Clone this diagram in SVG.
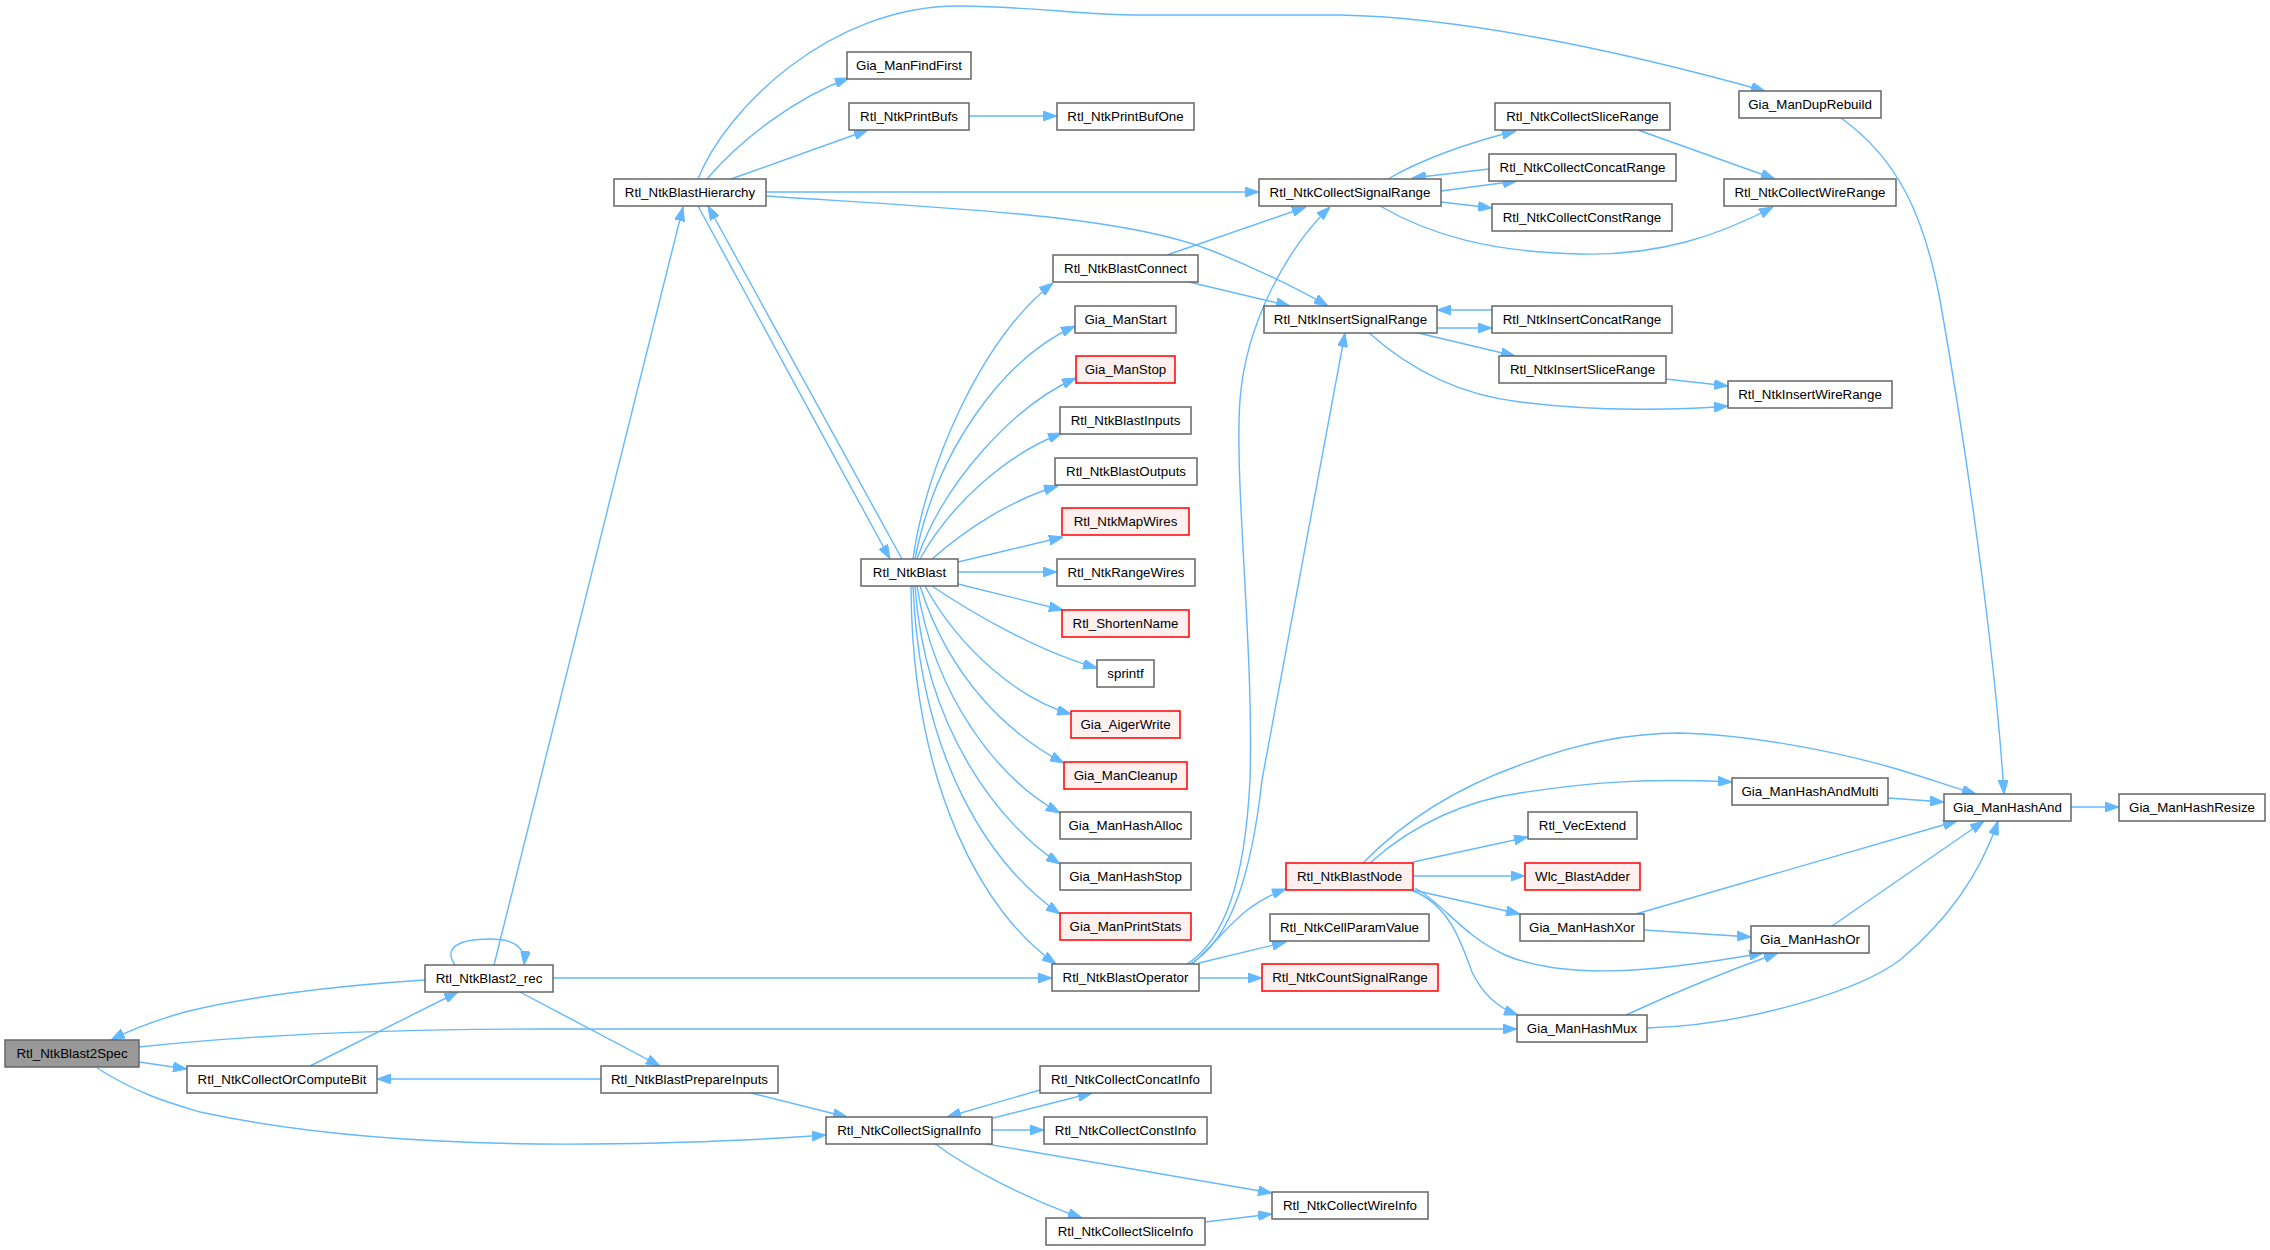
<svg xmlns="http://www.w3.org/2000/svg" width="2270" height="1250" viewBox="0 0 2270 1250">
<style>
.n rect{fill:#ffffff;stroke:#666666;stroke-width:1.5}
.n.r rect{fill:#fff0f0;stroke:#ff0000}
.n.root rect{fill:#999999;stroke:#666666}
.n text{font-family:"Liberation Sans",Arial,sans-serif;font-size:13.33px;fill:#000000;text-anchor:middle}
#edges path{fill:none;stroke:#63b8ff;stroke-width:1.4;marker-end:url(#ah)}
</style>
<defs>
<marker id="ah" markerUnits="userSpaceOnUse" viewBox="0 0 14 10" refX="14" refY="5" markerWidth="14" markerHeight="10" orient="auto">
<path d="M0,0 L14,5 L0,10 z" fill="#63b8ff" stroke="#63b8ff" stroke-width="1"/>
</marker>
</defs>
<rect x="0" y="0" width="2270" height="1250" fill="#ffffff"/>
<g id="edges">
<path d="M139,1062 L187,1069"/>
<path d="M139,1047 C260,1034 400,1029 540,1029 L1517,1029"/>
<path d="M97,1068 C140,1095 170,1103 200,1112 C320,1138 460,1145 590,1144 C690,1143 760,1140 826,1135"/>
<path d="M425,980 C330,986 240,998 185,1012 C150,1022 130,1030 111,1040"/>
<path d="M310,1066 L458,992"/>
<path d="M455,965 C443,948 458,939 490,939 C515,939 526,948 524,965"/>
<path d="M494,965 L683,207"/>
<path d="M553,978 L1052,978"/>
<path d="M518,991 L660,1066"/>
<path d="M601,1079 L377,1079"/>
<path d="M751,1093 L847,1117"/>
<path d="M698,179 C725,110 830,5 960,6 C1040,7 1080,15 1140,15 L1340,15 C1450,17 1600,45 1765,91"/>
<path d="M707,179 C740,140 795,98 849,78"/>
<path d="M731,179 L868,130"/>
<path d="M766,192 L1259,192"/>
<path d="M766,196 C950,208 1120,215 1210,250 C1260,270 1300,290 1328,306"/>
<path d="M698,206 L890,559"/>
<path d="M902,559 L708,206"/>
<path d="M913,559 C925,470 980,340 1053,283"/>
<path d="M915,559 C935,455 1000,360 1075,326"/>
<path d="M917,559 C945,480 1015,405 1076,378"/>
<path d="M920,559 C950,505 1005,455 1062,433"/>
<path d="M932,559 C965,530 1010,500 1058,486"/>
<path d="M958,562 L1063,537"/>
<path d="M958,572 L1057,572"/>
<path d="M958,584 L1063,610"/>
<path d="M932,586 C975,615 1040,652 1097,668"/>
<path d="M925,586 C960,650 1020,700 1071,714"/>
<path d="M920,586 C950,680 1010,735 1064,763"/>
<path d="M917,586 C935,700 1000,780 1060,813"/>
<path d="M915,586 C925,730 1000,825 1060,864"/>
<path d="M913,586 C920,760 990,865 1060,914"/>
<path d="M911,586 C912,790 985,915 1056,964"/>
<path d="M1167,255 L1306,207"/>
<path d="M1189,282 L1290,306"/>
<path d="M1388,179 C1420,160 1470,142 1516,131"/>
<path d="M1489,169 L1412,178"/>
<path d="M1441,191 L1517,181"/>
<path d="M1441,202 L1492,208"/>
<path d="M1380,206 C1430,235 1490,252 1580,254 C1660,256 1720,235 1773,207"/>
<path d="M1638,130 L1775,179"/>
<path d="M1841,118 C1900,160 1925,220 1940,300 C1965,440 1995,650 2004,794"/>
<path d="M1492,310 L1437,310"/>
<path d="M1437,328 L1492,328"/>
<path d="M1414,332 L1515,356"/>
<path d="M1368,332 C1410,370 1460,395 1520,402 C1600,412 1680,410 1728,406"/>
<path d="M1666,379 L1728,386"/>
<path d="M969,116 L1057,116"/>
<path d="M1187,964 C1225,940 1245,880 1250,780 C1254,650 1234,480 1240,400 C1246,320 1290,245 1330,207"/>
<path d="M1190,964 C1232,940 1252,870 1262,780 L1345,333"/>
<path d="M1192,964 C1225,935 1240,905 1286,889"/>
<path d="M1199,963 L1286,942"/>
<path d="M1199,978 L1262,978"/>
<path d="M1363,863 C1400,825 1450,790 1520,765 C1580,742 1630,733 1680,733 C1760,735 1850,755 1900,770 C1930,779 1955,788 1976,794"/>
<path d="M1370,863 C1415,822 1470,800 1520,793 C1590,782 1650,778 1732,782"/>
<path d="M1413,862 L1528,837"/>
<path d="M1413,876 L1525,876"/>
<path d="M1413,890 L1520,914"/>
<path d="M1415,888 C1445,905 1462,935 1505,955 C1560,978 1640,975 1763,953"/>
<path d="M1413,891 C1450,905 1462,945 1472,972 C1483,995 1498,1008 1518,1015"/>
<path d="M1888,798 L1944,802"/>
<path d="M1636,914 L1957,821"/>
<path d="M1644,930 L1751,937"/>
<path d="M1832,926 L1984,821"/>
<path d="M1626,1015 C1680,990 1730,970 1778,953"/>
<path d="M1647,1028 C1750,1025 1860,990 1900,960 C1960,910 1985,860 1998,821"/>
<path d="M2071,807 L2119,807"/>
<path d="M1040,1090 L947,1117"/>
<path d="M993,1118 L1092,1093"/>
<path d="M992,1130 L1044,1130"/>
<path d="M981,1143 L1272,1193"/>
<path d="M934,1143 C970,1170 1030,1200 1082,1218"/>
<path d="M1205,1222 L1272,1214"/>
</g>
<g id="node-Rtl_NtkBlast2Spec" class="n root"><rect x="5" y="1040" width="134" height="27"/><text x="72" y="1058">Rtl_NtkBlast2Spec</text></g>
<g id="node-Rtl_NtkCollectOrComputeBit" class="n"><rect x="187" y="1066" width="190" height="27"/><text x="282" y="1084">Rtl_NtkCollectOrComputeBit</text></g>
<g id="node-Rtl_NtkBlast2_rec" class="n"><rect x="425" y="965" width="128" height="27"/><text x="489" y="983">Rtl_NtkBlast2_rec</text></g>
<g id="node-Rtl_NtkBlastPrepareInputs" class="n"><rect x="601" y="1066" width="177" height="27"/><text x="689.5" y="1084">Rtl_NtkBlastPrepareInputs</text></g>
<g id="node-Rtl_NtkBlastHierarchy" class="n"><rect x="614" y="179" width="152" height="27"/><text x="690" y="197">Rtl_NtkBlastHierarchy</text></g>
<g id="node-Rtl_NtkBlast" class="n"><rect x="861" y="559" width="97" height="27"/><text x="909.5" y="577">Rtl_NtkBlast</text></g>
<g id="node-Gia_ManFindFirst" class="n"><rect x="847" y="52" width="124" height="27"/><text x="909" y="70">Gia_ManFindFirst</text></g>
<g id="node-Rtl_NtkPrintBufs" class="n"><rect x="849" y="103" width="120" height="27"/><text x="909" y="121">Rtl_NtkPrintBufs</text></g>
<g id="node-Rtl_NtkPrintBufOne" class="n"><rect x="1057" y="103" width="137" height="27"/><text x="1125.5" y="121">Rtl_NtkPrintBufOne</text></g>
<g id="node-Rtl_NtkBlastConnect" class="n"><rect x="1053" y="255" width="145" height="27"/><text x="1125.5" y="273">Rtl_NtkBlastConnect</text></g>
<g id="node-Gia_ManStart" class="n"><rect x="1075" y="306" width="101" height="27"/><text x="1125.5" y="324">Gia_ManStart</text></g>
<g id="node-Gia_ManStop" class="n r"><rect x="1076" y="356" width="99" height="27"/><text x="1125.5" y="374">Gia_ManStop</text></g>
<g id="node-Rtl_NtkBlastInputs" class="n"><rect x="1060" y="407" width="131" height="27"/><text x="1125.5" y="425">Rtl_NtkBlastInputs</text></g>
<g id="node-Rtl_NtkBlastOutputs" class="n"><rect x="1055" y="458" width="142" height="27"/><text x="1126" y="476">Rtl_NtkBlastOutputs</text></g>
<g id="node-Rtl_NtkMapWires" class="n r"><rect x="1062" y="508" width="127" height="27"/><text x="1125.5" y="526">Rtl_NtkMapWires</text></g>
<g id="node-Rtl_NtkRangeWires" class="n"><rect x="1057" y="559" width="138" height="27"/><text x="1126" y="577">Rtl_NtkRangeWires</text></g>
<g id="node-Rtl_ShortenName" class="n r"><rect x="1062" y="610" width="127" height="27"/><text x="1125.5" y="628">Rtl_ShortenName</text></g>
<g id="node-sprintf" class="n"><rect x="1097" y="660" width="57" height="27"/><text x="1125.5" y="678">sprintf</text></g>
<g id="node-Gia_AigerWrite" class="n r"><rect x="1071" y="711" width="109" height="27"/><text x="1125.5" y="729">Gia_AigerWrite</text></g>
<g id="node-Gia_ManCleanup" class="n r"><rect x="1064" y="762" width="123" height="27"/><text x="1125.5" y="780">Gia_ManCleanup</text></g>
<g id="node-Gia_ManHashAlloc" class="n"><rect x="1060" y="812" width="131" height="27"/><text x="1125.5" y="830">Gia_ManHashAlloc</text></g>
<g id="node-Gia_ManHashStop" class="n"><rect x="1060" y="863" width="131" height="27"/><text x="1125.5" y="881">Gia_ManHashStop</text></g>
<g id="node-Gia_ManPrintStats" class="n r"><rect x="1060" y="913" width="131" height="27"/><text x="1125.5" y="931">Gia_ManPrintStats</text></g>
<g id="node-Rtl_NtkBlastOperator" class="n"><rect x="1052" y="964" width="147" height="27"/><text x="1125.5" y="982">Rtl_NtkBlastOperator</text></g>
<g id="node-Rtl_NtkCollectConcatInfo" class="n"><rect x="1040" y="1066" width="171" height="27"/><text x="1125.5" y="1084">Rtl_NtkCollectConcatInfo</text></g>
<g id="node-Rtl_NtkCollectSignalInfo" class="n"><rect x="826" y="1117" width="166" height="27"/><text x="909" y="1135">Rtl_NtkCollectSignalInfo</text></g>
<g id="node-Rtl_NtkCollectConstInfo" class="n"><rect x="1044" y="1117" width="163" height="27"/><text x="1125.5" y="1135">Rtl_NtkCollectConstInfo</text></g>
<g id="node-Rtl_NtkCollectWireInfo" class="n"><rect x="1272" y="1192" width="156" height="27"/><text x="1350" y="1210">Rtl_NtkCollectWireInfo</text></g>
<g id="node-Rtl_NtkCollectSliceInfo" class="n"><rect x="1046" y="1218" width="159" height="27"/><text x="1125.5" y="1236">Rtl_NtkCollectSliceInfo</text></g>
<g id="node-Rtl_NtkCollectSignalRange" class="n"><rect x="1259" y="179" width="182" height="27"/><text x="1350" y="197">Rtl_NtkCollectSignalRange</text></g>
<g id="node-Rtl_NtkInsertSignalRange" class="n"><rect x="1264" y="306" width="173" height="27"/><text x="1350.5" y="324">Rtl_NtkInsertSignalRange</text></g>
<g id="node-Rtl_NtkBlastNode" class="n r"><rect x="1286" y="863" width="127" height="27"/><text x="1349.5" y="881">Rtl_NtkBlastNode</text></g>
<g id="node-Rtl_NtkCellParamValue" class="n"><rect x="1270" y="914" width="159" height="27"/><text x="1349.5" y="932">Rtl_NtkCellParamValue</text></g>
<g id="node-Rtl_NtkCountSignalRange" class="n r"><rect x="1262" y="964" width="176" height="27"/><text x="1350" y="982">Rtl_NtkCountSignalRange</text></g>
<g id="node-Rtl_NtkCollectSliceRange" class="n"><rect x="1495" y="103" width="175" height="27"/><text x="1582.5" y="121">Rtl_NtkCollectSliceRange</text></g>
<g id="node-Rtl_NtkCollectConcatRange" class="n"><rect x="1489" y="154" width="187" height="27"/><text x="1582.5" y="172">Rtl_NtkCollectConcatRange</text></g>
<g id="node-Rtl_NtkCollectConstRange" class="n"><rect x="1492" y="204" width="180" height="27"/><text x="1582" y="222">Rtl_NtkCollectConstRange</text></g>
<g id="node-Rtl_NtkInsertConcatRange" class="n"><rect x="1492" y="306" width="180" height="27"/><text x="1582" y="324">Rtl_NtkInsertConcatRange</text></g>
<g id="node-Rtl_NtkInsertSliceRange" class="n"><rect x="1499" y="356" width="167" height="27"/><text x="1582.5" y="374">Rtl_NtkInsertSliceRange</text></g>
<g id="node-Gia_ManDupRebuild" class="n"><rect x="1739" y="91" width="142" height="27"/><text x="1810" y="109">Gia_ManDupRebuild</text></g>
<g id="node-Rtl_NtkCollectWireRange" class="n"><rect x="1724" y="179" width="172" height="27"/><text x="1810" y="197">Rtl_NtkCollectWireRange</text></g>
<g id="node-Rtl_NtkInsertWireRange" class="n"><rect x="1728" y="381" width="164" height="27"/><text x="1810" y="399">Rtl_NtkInsertWireRange</text></g>
<g id="node-Rtl_VecExtend" class="n"><rect x="1528" y="812" width="109" height="27"/><text x="1582.5" y="830">Rtl_VecExtend</text></g>
<g id="node-Wlc_BlastAdder" class="n r"><rect x="1525" y="863" width="115" height="27"/><text x="1582.5" y="881">Wlc_BlastAdder</text></g>
<g id="node-Gia_ManHashXor" class="n"><rect x="1520" y="914" width="124" height="27"/><text x="1582" y="932">Gia_ManHashXor</text></g>
<g id="node-Gia_ManHashMux" class="n"><rect x="1517" y="1015" width="130" height="27"/><text x="1582" y="1033">Gia_ManHashMux</text></g>
<g id="node-Gia_ManHashAndMulti" class="n"><rect x="1732" y="778" width="156" height="27"/><text x="1810" y="796">Gia_ManHashAndMulti</text></g>
<g id="node-Gia_ManHashOr" class="n"><rect x="1751" y="926" width="118" height="27"/><text x="1810" y="944">Gia_ManHashOr</text></g>
<g id="node-Gia_ManHashAnd" class="n"><rect x="1944" y="794" width="127" height="27"/><text x="2007.5" y="812">Gia_ManHashAnd</text></g>
<g id="node-Gia_ManHashResize" class="n"><rect x="2119" y="794" width="146" height="27"/><text x="2192" y="812">Gia_ManHashResize</text></g>
</svg>
